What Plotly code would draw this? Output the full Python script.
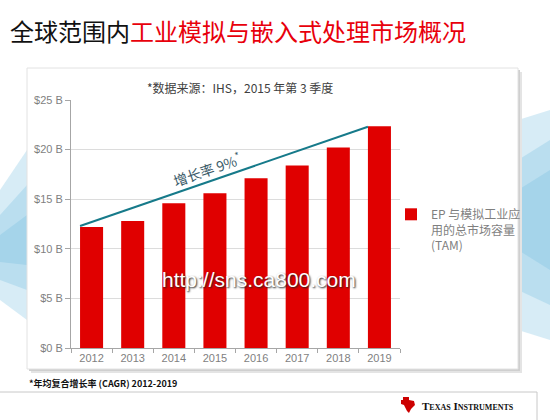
import math
import plotly.graph_objects as go

W, H = 550, 420

# data
anos = [2012, 2013, 2014, 2015, 2016, 2017, 2018, 2019]
tam = [12.2, 12.8, 14.6, 15.6, 17.1, 18.4, 20.2, 22.35]
tendencia = [12.3, 22.3]   # linha de crescimento 2012 -> 2019
y_ticks = [0, 5, 10, 15, 20, 25]
y_labels = ["$0 B", "$5 B", "$10 B", "$15 B", "$20 B", "$25 B"]

VERMELHO = "#e00000"
TEAL = "#167a8a"
CINZA = "#7f7f7f"
CJK = "Noto Sans CJK SC, Liberation Sans, Arial"

largura_barra = 0.56


def px(x, y):
    # pixel -> paper
    return x / W, 1 - y / H


def caminho(pontos):
    s = ""
    for i, (x, y) in enumerate(pontos):
        a, b = px(x, y)
        s += ("M" if i == 0 else "L") + f"{a:.4f},{b:.4f} "
    return s + "Z"


fig = go.Figure()

fig.add_trace(go.Bar(
    x=anos, y=tam, width=largura_barra,
    marker=dict(color=VERMELHO, line=dict(width=0)),
    name="EP 与模拟工业应<br>用的总市场容量<br>(TAM)",
))

fig.add_trace(go.Scatter(
    x=[anos[0] - largura_barra / 2, anos[-1] - largura_barra / 2],
    y=tendencia, mode="lines",
    line=dict(color=TEAL, width=2), showlegend=False, hoverinfo="skip",
))

# plot area in pixels
x0, x1, y0, y1 = 71, 400, 100, 348
dom_x = [x0 / W, x1 / W]
dom_y = [1 - y1 / H, 1 - y0 / H]

# angle of the growth line in screen pixels
def para_px(xv, yv):
    fx = (xv - (anos[0] - 0.5)) / (len(anos))
    return x0 + fx * (x1 - x0), y1 - yv / 25 * (y1 - y0)

pa = para_px(anos[0] - largura_barra / 2, tendencia[0])
pb = para_px(anos[-1] - largura_barra / 2, tendencia[1])
ang = math.degrees(math.atan2(pb[1] - pa[1], pb[0] - pa[0]))

shapes = []
# background swooshes
azul = "rgba(110,185,222,0.28)"
for pts in [
    [(0, 190), (27, 150), (27, 320), (0, 300)],
    [(0, 215), (27, 185), (27, 290), (0, 280)],
    [(0, 235), (27, 215), (27, 265), (0, 262)],
    [(550, 110), (518, 120), (518, 330), (550, 340)],
    [(550, 140), (518, 160), (518, 290), (550, 305)],
    [(550, 170), (518, 190), (518, 250), (550, 270)],
]:
    shapes.append(dict(type="path", xref="paper", yref="paper", path=caminho(pts),
                       fillcolor=azul, line=dict(width=0), layer="below"))
# panel shadow + panel
for off, cor in [(4, "#e4e4e4"), (2, "#cfcfcf")]:
    a = px(27 + off, 369 + off)
    b = px(518 + off, 68 + off)
    shapes.append(dict(type="rect", xref="paper", yref="paper", x0=a[0], y0=a[1],
                       x1=b[0], y1=b[1], fillcolor=cor, line=dict(width=0), layer="below"))
a = px(27, 369)
b = px(518, 68)
shapes.append(dict(type="rect", xref="paper", yref="paper", x0=a[0], y0=a[1], x1=b[0], y1=b[1],
                   fillcolor="white", line=dict(color="#e2e2e2", width=1), layer="below"))
# footer frame
a = px(0, 392)
b = px(537, 392)
c = px(537, 420)
shapes.append(dict(type="line", xref="paper", yref="paper", x0=a[0], y0=a[1], x1=b[0], y1=b[1],
                   line=dict(color="#c8c8c8", width=1)))
shapes.append(dict(type="line", xref="paper", yref="paper", x0=b[0], y0=b[1], x1=c[0], y1=c[1],
                   line=dict(color="#c8c8c8", width=1)))
# TI logo mark
shapes.append(dict(type="path", xref="paper", yref="paper",
                   path=caminho([(403, 397), (409, 397), (409, 400), (414, 401), (415, 405),
                                 (411, 409), (409, 413), (407, 411), (404, 405), (401, 404),
                                 (401, 400), (403, 400)]),
                   fillcolor="#cc0000", line=dict(width=0)))

fig.update_layout(
    width=W, height=H,
    margin=dict(l=0, r=0, t=0, b=0, autoexpand=False),
    paper_bgcolor="white", plot_bgcolor="rgba(0,0,0,0)",
    font=dict(family=CJK, color=CINZA, size=11),
    bargap=0.44,
    shapes=shapes,
    xaxis=dict(
        domain=dom_x, range=[anos[0] - 0.5, anos[-1] + 0.5],
        tickvals=anos, ticktext=[str(a) for a in anos], ticks="",
        showline=True, linecolor="#a6a6a6", linewidth=1, showgrid=False, zeroline=False,
        tickfont=dict(family="Liberation Sans, Arial", size=11, color=CINZA),
        minor=dict(tick0=anos[0] - 0.5, dtick=1, ticks="outside", ticklen=4,
                   tickcolor="#a6a6a6", showgrid=False),
        automargin=False, fixedrange=True,
    ),
    yaxis=dict(
        domain=dom_y, range=[0, 25], tickvals=y_ticks, ticktext=y_labels,
        ticks="outside", ticklen=5, tickcolor="#a6a6a6",
        showline=True, linecolor="#a6a6a6", linewidth=1,
        showgrid=True, gridcolor="#dcdcdc", gridwidth=1, zeroline=False,
        tickfont=dict(family="Liberation Sans, Arial", size=11, color=CINZA),
        automargin=False, fixedrange=True,
    ),
    legend=dict(
        x=391 / W, y=1 - 200 / H, xanchor="left", yanchor="top",
        bgcolor="rgba(0,0,0,0)", valign="top", itemwidth=30,
        font=dict(family=CJK, size=12, color=CINZA),
    ),
    annotations=[
        dict(text="全球范围内<span style='color:#e8000b'>工业模拟与嵌入式处理市场概况</span>",
             xref="paper", yref="paper", x=8 / W, y=1 - 31 / H, xanchor="left", yanchor="middle",
             showarrow=False, font=dict(family=CJK, size=24, color="#111111")),
        dict(text="*数据来源：IHS，2015 年第 3 季度",
             xref="paper", yref="paper", x=240 / W, y=1 - 87 / H, xanchor="center", yanchor="middle",
             showarrow=False, font=dict(family=CJK, size=12, color="#404040")),
        dict(text="增长率 9%<sup>*</sup>",
             x=anos[0] + 2.9, y=tendencia[0] + (tendencia[1] - tendencia[0]) * (2.9 + largura_barra / 2) / 7,
             xref="x", yref="y", showarrow=False, textangle=ang,
             xshift=-4, yshift=11,
             font=dict(family=CJK, size=14, color="#3a5a68")),
        dict(text="http://sns.ca800.com",
             xref="paper", yref="paper", x=259 / W, y=1 - 279 / H, xanchor="center", yanchor="middle",
             showarrow=False,
             font=dict(family="Liberation Sans, Arial", size=21, color="white",
                       shadow="1px 1px 2px #222222")),
        dict(text="<b>*年均复合增长率 (CAGR) 2012-2019</b>",
             xref="paper", yref="paper", x=27 / W, y=1 - 383 / H, xanchor="left", yanchor="middle",
             showarrow=False, font=dict(family=CJK, size=9, color="#111111")),
        dict(text="<b>T<span style='font-size:8px'>EXAS</span> I<span style='font-size:8px'>NSTRUMENTS</span></b>",
             xref="paper", yref="paper", x=420 / W, y=1 - 406 / H, xanchor="left", yanchor="middle",
             showarrow=False, font=dict(family="Liberation Serif, Times New Roman", size=11, color="#111111")),
    ],
)

# the page body has an 8px default margin; remove it so the figure fills the window
fig.write_html("out.html", config={"displayModeBar": False},
               post_script="document.body.style.margin='0';")
